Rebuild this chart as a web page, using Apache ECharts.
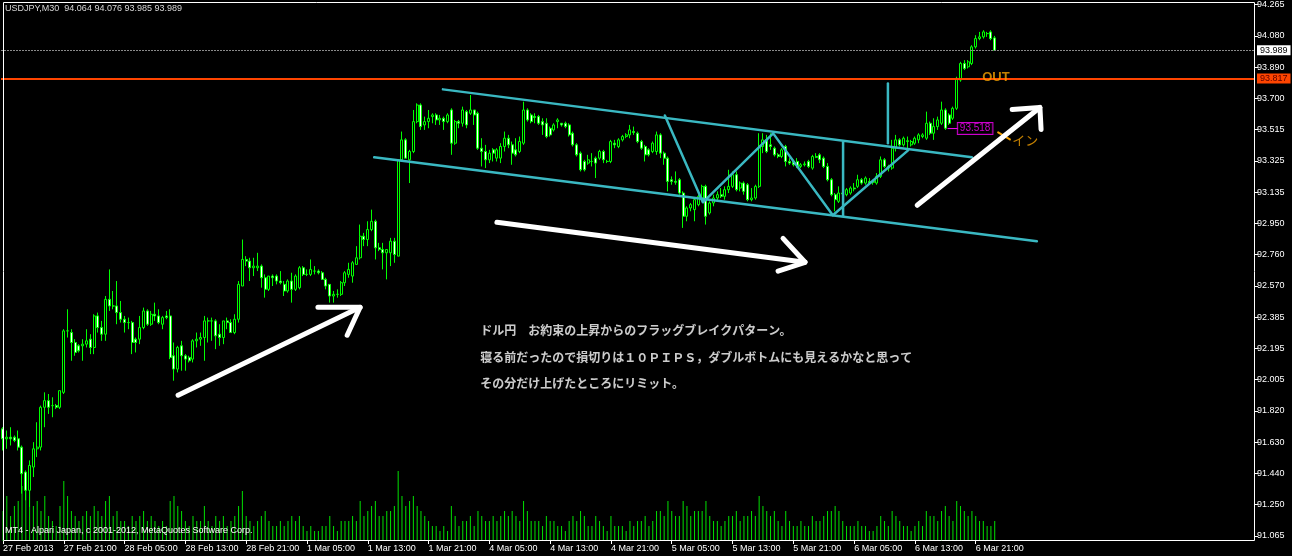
<!DOCTYPE html>
<html><head><meta charset="utf-8">
<script src="https://cdn.jsdelivr.net/npm/echarts@6/dist/echarts.min.js"></script>
<style>html,body{margin:0;padding:0;background:#000;}#c{width:1292px;height:556px;}</style>
</head><body><div id="c"></div>
<script>
// ---- data (USDJPY M30, bar 0 = 27 Feb 2013 13:00) ----
const openP = [
91.71,91.65,91.66,91.66,91.65,91.60,91.45,91.34,91.48,91.59,91.60,91.84,91.88,91.85,91.85,91.84,
91.93,92.30,92.29,92.23,92.21,92.21,92.22,92.25,92.20,92.39,92.32,92.28,92.49,92.45,92.45,92.41,
92.37,92.35,92.35,92.25,92.25,92.32,92.42,92.34,92.40,92.39,92.34,92.39,92.39,92.15,92.07,92.21,
92.15,92.14,92.13,92.24,92.25,92.26,92.36,92.36,92.36,92.28,92.26,92.36,92.35,92.29,92.37,92.57,
92.73,92.72,92.68,92.68,92.69,92.62,92.55,92.63,92.63,92.60,92.58,92.54,92.60,92.55,92.56,92.68,
92.64,92.64,92.66,92.66,92.65,92.61,92.58,92.51,92.52,92.52,92.59,92.64,92.63,92.70,92.74,92.87,
92.85,92.91,92.96,92.80,92.79,92.77,92.77,92.84,92.75,93.33,93.45,93.33,93.38,93.56,93.66,93.54,
93.56,93.59,93.60,93.57,93.58,93.56,93.63,93.43,93.56,93.55,93.62,93.61,93.63,93.61,93.40,93.38,
93.33,93.39,93.34,93.34,93.41,93.46,93.42,93.39,93.38,93.43,93.63,93.60,93.59,93.59,93.56,93.55,
93.52,93.51,93.56,93.55,93.55,93.54,93.49,93.42,93.37,93.32,93.31,93.32,93.34,93.34,93.38,93.32,
93.32,93.43,93.41,93.45,93.47,93.48,93.50,93.49,93.44,93.41,93.39,93.38,93.38,93.48,93.37,93.34,
93.21,93.20,93.21,93.13,92.99,93.04,93.03,93.06,93.10,93.17,93.01,93.07,93.10,93.12,93.11,93.15,
93.17,93.24,93.16,93.19,93.18,93.09,93.10,93.17,93.41,93.45,93.42,93.40,93.36,93.35,93.41,93.32,
93.32,93.32,93.29,93.30,93.32,93.28,93.35,93.36,93.34,93.29,93.21,93.12,93.08,93.13,93.12,93.13,
93.16,93.17,93.21,93.19,93.20,93.20,93.19,93.23,93.33,93.29,93.28,93.40,93.45,93.42,93.44,93.42,
93.43,93.45,93.47,93.46,93.55,93.49,93.53,93.55,93.63,93.60,93.58,93.64,93.81,93.91,93.89,93.91,
94.01,94.06,94.07,94.09,94.10,94.064];
const highP = [
91.72,91.70,91.72,91.67,91.70,91.61,91.46,91.52,91.63,91.75,91.85,91.93,91.92,91.90,91.86,91.94,
92.31,92.43,92.31,92.25,92.22,92.25,92.31,92.28,92.40,92.41,92.36,92.51,92.67,92.54,92.60,92.48,
92.39,92.38,92.36,92.26,92.39,92.44,92.43,92.42,92.47,92.43,92.39,92.42,92.43,92.23,92.21,92.24,
92.16,92.15,92.25,92.29,92.29,92.39,92.38,92.38,92.37,92.34,92.36,92.38,92.37,92.40,92.60,92.85,
92.75,92.74,92.74,92.77,92.70,92.64,92.63,92.64,92.64,92.66,92.60,92.61,92.65,92.64,92.69,92.69,
92.67,92.73,92.69,92.67,92.66,92.62,92.58,92.54,92.55,92.60,92.66,92.71,92.72,92.81,92.94,92.89,
92.96,93.03,92.97,92.83,92.83,92.79,92.86,92.86,93.33,93.50,93.46,93.39,93.63,93.67,93.67,93.59,
93.63,93.61,93.61,93.60,93.59,93.61,93.64,93.57,93.57,93.65,93.63,93.72,93.63,93.62,93.46,93.42,
93.39,93.40,93.40,93.43,93.50,93.48,93.44,93.46,93.47,93.68,93.64,93.61,93.61,93.60,93.58,93.58,
93.53,93.55,93.58,93.55,93.56,93.55,93.50,93.43,93.38,93.33,93.36,93.37,93.35,93.39,93.39,93.33,
93.45,93.45,93.46,93.48,93.49,93.54,93.53,93.50,93.45,93.42,93.40,93.44,93.50,93.49,93.38,93.35,
93.23,93.26,93.22,93.14,93.05,93.07,93.10,93.12,93.18,93.18,93.08,93.12,93.14,93.16,93.17,93.27,
93.26,93.26,93.20,93.20,93.19,93.16,93.18,93.49,93.49,93.48,93.49,93.41,93.37,93.40,93.42,93.34,
93.33,93.34,93.31,93.32,93.33,93.36,93.37,93.37,93.35,93.31,93.22,93.13,93.17,93.15,93.16,93.17,
93.19,93.24,93.22,93.23,93.22,93.21,93.25,93.35,93.34,93.30,93.45,93.48,93.46,93.47,93.47,93.45,
93.47,93.49,93.49,93.62,93.56,93.58,93.59,93.68,93.64,93.61,93.65,93.83,93.92,93.93,93.93,94.02,
94.08,94.10,94.11,94.10,94.11,94.076];
const lowP = [
91.58,91.59,91.61,91.63,91.58,91.32,91.28,91.24,91.42,91.54,91.58,91.72,91.80,91.78,91.83,91.83,
91.92,92.26,92.12,92.15,92.17,92.12,92.20,92.16,92.16,92.29,92.24,92.24,92.42,92.43,92.34,92.35,
92.29,92.31,92.16,92.17,92.22,92.31,92.33,92.33,92.36,92.34,92.31,92.37,92.13,92.00,92.05,92.06,
92.06,92.11,92.11,92.20,92.21,92.12,92.23,92.24,92.19,92.21,92.22,92.31,92.29,92.28,92.35,92.57,
92.69,92.60,92.63,92.66,92.56,92.50,92.54,92.57,92.58,92.58,92.51,92.53,92.47,92.54,92.55,92.63,
92.63,92.63,92.64,92.64,92.61,92.55,92.47,92.47,92.50,92.51,92.57,92.62,92.59,92.70,92.73,92.81,
92.81,92.90,92.73,92.78,92.67,92.61,92.69,92.71,92.75,93.32,93.34,93.19,93.37,93.55,93.51,93.51,
93.52,93.55,93.54,93.54,93.51,93.55,93.36,93.42,93.52,93.53,93.52,93.60,93.54,93.39,93.29,93.28,
93.31,93.32,93.32,93.31,93.38,93.40,93.30,93.35,93.37,93.42,93.56,93.55,93.55,93.54,93.48,93.46,
93.47,93.50,93.52,93.53,93.52,93.47,93.41,93.35,93.26,93.26,93.30,93.29,93.22,93.33,93.31,93.31,
93.31,93.40,93.40,93.44,93.46,93.46,93.48,93.43,93.39,93.32,93.35,93.37,93.36,93.34,93.30,93.14,
93.18,93.18,93.12,92.92,92.96,93.02,92.96,93.05,93.09,92.94,93.00,93.05,93.08,93.10,93.09,93.13,
93.16,93.14,93.14,93.12,93.08,93.08,93.09,93.16,93.37,93.37,93.39,93.35,93.34,93.34,93.29,93.30,
93.29,93.28,93.28,93.29,93.28,93.27,93.34,93.31,93.28,93.20,93.11,93.02,93.07,93.11,93.11,93.12,
93.14,93.16,93.18,93.18,93.19,93.18,93.18,93.22,93.28,93.26,93.27,93.38,93.41,93.41,93.40,93.41,
93.42,93.43,93.46,93.45,93.48,93.45,93.51,93.54,93.51,93.54,93.57,93.63,93.80,93.87,93.88,93.90,
94.00,94.05,94.06,94.07,94.05,93.985];
const closeP = [
91.65,91.66,91.65,91.64,91.60,91.44,91.34,91.49,91.59,91.60,91.84,91.88,91.84,91.85,91.84,91.94,
92.30,92.30,92.23,92.17,92.18,92.22,92.24,92.20,92.39,92.32,92.28,92.49,92.45,92.45,92.41,92.37,
92.35,92.35,92.23,92.23,92.32,92.42,92.34,92.40,92.39,92.35,92.38,92.38,92.14,92.07,92.20,92.15,
92.13,92.12,92.24,92.25,92.26,92.36,92.36,92.36,92.27,92.26,92.36,92.35,92.29,92.37,92.58,92.73,
92.72,92.68,92.69,92.69,92.62,92.55,92.63,92.62,92.60,92.59,92.54,92.60,92.55,92.63,92.68,92.64,
92.64,92.67,92.66,92.65,92.61,92.57,92.51,92.52,92.52,92.59,92.65,92.67,92.71,92.74,92.87,92.85,
92.91,92.96,92.80,92.79,92.77,92.79,92.84,92.76,93.33,93.45,93.34,93.38,93.56,93.66,93.53,93.56,
93.58,93.60,93.57,93.58,93.56,93.60,93.43,93.56,93.55,93.63,93.54,93.63,93.60,93.40,93.38,93.33,
93.37,93.37,93.39,93.41,93.46,93.42,93.37,93.36,93.44,93.63,93.57,93.56,93.585,93.55,93.54,93.47,
93.48,93.54,93.57,93.54,93.53,93.48,93.42,93.36,93.27,93.27,93.33,93.32,93.31,93.38,93.33,93.32,
93.44,93.42,93.45,93.47,93.48,93.51,93.495,93.44,93.40,93.36,93.36,93.43,93.48,93.37,93.34,93.20,
93.20,93.195,93.13,92.99,93.04,93.06,93.09,93.11,93.17,92.99,93.07,93.10,93.12,93.11,93.15,93.17,
93.24,93.15,93.19,93.14,93.09,93.10,93.17,93.41,93.45,93.38,93.41,93.36,93.35,93.39,93.32,93.31,
93.30,93.29,93.30,93.305,93.29,93.35,93.345,93.33,93.29,93.21,93.12,93.09,93.13,93.125,93.15,93.16,
93.155,93.21,93.19,93.22,93.19,93.195,93.23,93.33,93.29,93.28,93.40,93.45,93.42,93.46,93.445,93.44,
93.46,93.48,93.48,93.55,93.49,93.53,93.57,93.63,93.52,93.55,93.64,93.82,93.91,93.88,93.92,94.01,
94.06,94.07,94.10,94.09,94.06,93.989];
const volume = [
300,450,250,350,400,550,600,500,350,400,300,450,250,200,150,350,
600,450,300,250,200,250,300,250,350,300,250,400,450,250,300,200,
200,150,250,200,250,300,200,250,200,150,200,150,400,450,350,300,
200,150,250,200,200,350,200,150,250,200,250,150,200,250,350,500,
250,200,150,200,250,300,200,150,150,200,150,200,250,200,250,150,
100,150,100,100,150,150,250,150,100,200,200,200,250,200,400,250,
300,350,400,250,250,300,300,350,700,450,350,400,450,350,300,250,
200,150,150,100,150,100,350,250,150,200,200,250,150,300,250,200,
200,250,200,250,300,250,300,250,200,400,300,200,200,200,150,250,
200,200,150,150,100,200,250,200,300,250,150,150,250,200,150,100,
250,150,150,150,100,200,150,200,200,250,150,200,300,300,250,400,
300,250,250,400,350,250,300,300,300,400,250,200,200,150,200,250,
250,300,200,250,250,300,250,450,350,300,250,300,200,150,300,200,
150,150,200,150,150,250,200,200,250,300,300,350,300,200,150,150,
150,200,150,150,100,100,150,250,200,150,300,250,200,150,150,100,
150,200,150,300,250,250,200,300,350,250,200,400,350,300,250,300,
250,200,200,150,150,200];
const tickLabels = ['27 Feb 2013','27 Feb 21:00','28 Feb 05:00','28 Feb 13:00','28 Feb 21:00',
  '1 Mar 05:00','1 Mar 13:00','1 Mar 21:00','4 Mar 05:00','4 Mar 13:00','4 Mar 21:00',
  '5 Mar 05:00','5 Mar 13:00','5 Mar 21:00','6 Mar 05:00','6 Mar 13:00','6 Mar 21:00'];
const priceLabels = ['91.065','91.250','91.440','91.630','91.820','92.005','92.195','92.385','92.570',
  '92.760','92.950','93.135','93.325','93.515','93.700','93.890','94.080','94.265'];
const priceMin = 91.065, priceMax = 94.265;
const bidPrice = 93.989, outPrice = 93.817, entryPrice = 93.518;
const barsPerLabel = 16;
const slotCount = 330;
// drawn objects, anchored at [bar index, price]
const channelUpper = [[115.8, 93.754], [255.0, 93.345]];
const channelLower = [[97.7, 93.345], [272.1, 92.839]];
const zigzag = [[174.2, 93.597], [184.2, 93.074], [202.7, 93.489], [218.4, 92.996], [238.2, 93.387]];
const vLine1 = [[221.1, 93.435], [221.1, 92.996]];
const vLine2 = [[232.9, 93.790], [232.9, 93.429]];
const arrowShafts = [
  [[46.1, 91.913], [94.0, 92.442]],
  [[130.0, 92.954], [211.1, 92.713]],
  [[240.6, 93.056], [272.9, 93.645]]];
const arrowHeads = [
  [[82.9, 92.442], [94.0, 92.442], [90.6, 92.274]],
  [[205.3, 92.857], [211.1, 92.713], [204.0, 92.659]],
  [[265.6, 93.633], [272.9, 93.645], [273.2, 93.513]]];
const entryTick = [[248.7, 93.518], [251.3, 93.518]];
const inSlash = [[261.9, 93.495], [265.0, 93.453]];
const noteLines = ['ドル円　お約束の上昇からのフラッグブレイクパターン。',
  '寝る前だったので損切りは１０ＰＩＰＳ，ダブルボトムにも見えるかなと思って',
  'その分だけ上げたところにリミット。'];
const notePos = [[125.6, 92.304], [125.6, 92.142], [125.6, 91.985]];
const titleText = 'USDJPY,M30  94.064 94.076 93.985 93.989';
const copyText = 'MT4 - Alpari Japan, c 2001-2012, MetaQuotes Software Corp.';

// ---- chart ----
const FONT = 'Liberation Sans, Arial, sans-serif';
const cats = Array.from({length: slotCount}, (_, i) => String(i));
const ohlc = openP.map((o, i) => [o, closeP[i], lowP[i], highP[i]]);
const labelIdx = (i) => i % barsPerLabel === 0 && i / barsPerLabel < tickLabels.length;
const cyan = '#3ab8c2';

function lineSeries(data, color, width, z) {
  return {type: 'line', xAxisIndex: 1, yAxisIndex: 0, data: data, symbol: 'none', silent: true,
    z: z, clip: false, lineStyle: {color: color, width: width, cap: 'round', join: 'round'}, animation: false};
}
function textSeries(pos, text, style) {
  return {type: 'scatter', xAxisIndex: 1, yAxisIndex: 0, data: [pos], symbolSize: 0, silent: true, z: 10,
    label: Object.assign({show: true, position: 'right', distance: 0, formatter: text}, style), animation: false};
}

const series = [
  {type: 'bar', xAxisIndex: 2, yAxisIndex: 2, data: volume, barWidth: 1, silent: true, z: 1,
   itemStyle: {color: '#00e000'}, animation: false},
  {type: 'candlestick', xAxisIndex: 0, yAxisIndex: 0, data: ohlc, barWidth: 2.6, z: 2, silent: true,
   itemStyle: {color: '#000000', color0: '#ffffff', borderColor: '#00ff00', borderColor0: '#00ff00', borderWidth: 1},
   markLine: {symbol: 'none', silent: true, animation: false, data: [
     {yAxis: bidPrice, lineStyle: {color: '#8a8a8a', type: [2, 1], width: 1},
      label: {show: true, position: 'end', distance: 2, formatter: bidPrice.toFixed(3), color: '#000',
        backgroundColor: '#ffffff', padding: [1, 3, 0, 3], fontSize: 9, fontFamily: FONT}},
     {yAxis: outPrice, lineStyle: {color: '#ff4500', type: 'solid', width: 2},
      label: {show: true, position: 'end', distance: 2, formatter: outPrice.toFixed(3), color: '#5a0000',
        backgroundColor: '#ff4500', padding: [1, 3, 0, 3], fontSize: 9, fontFamily: FONT}}
   ]},
   animation: false},
  lineSeries(channelUpper, cyan, 2.5, 3),
  lineSeries(channelLower, cyan, 2.5, 3),
  lineSeries(zigzag, cyan, 2.5, 3),
  lineSeries(vLine1, cyan, 2.5, 3),
  lineSeries(vLine2, cyan, 2.5, 3),
  lineSeries(entryTick, '#ff00ff', 1, 4),
  lineSeries(inSlash, '#f5a000', 2, 4)
];
arrowShafts.forEach(a => series.push(lineSeries(a, '#ffffff', 5, 5)));
arrowHeads.forEach(a => series.push(lineSeries(a, '#ffffff', 5, 5)));
noteLines.forEach((t, i) => series.push(textSeries(notePos[i], t,
  {color: '#ffffff', fontSize: 12, fontWeight: 'bold', fontFamily: 'Noto Sans CJK JP'})));
series.push(textSeries([251.3, entryPrice], entryPrice.toFixed(3),
  {color: '#ff00ff', fontSize: 10, fontFamily: FONT, borderColor: '#ff00ff', borderWidth: 1,
   backgroundColor: '#000', padding: [1, 2, 0, 2]}));
series.push(textSeries([257.7, 93.826], 'OUT',
  {color: '#f5a000', fontSize: 13, fontWeight: 'bold', fontFamily: FONT}));
series.push(textSeries([265.6, 93.447], 'イン',
  {color: '#f5a000', fontSize: 13, fontFamily: 'Noto Sans CJK JP'}));

const option = {
  backgroundColor: '#000000',
  animation: false,
  title: [
    {text: titleText, left: 5, top: 4, padding: 0,
     textStyle: {color: '#d8d8d8', fontSize: 9, fontWeight: 'normal', fontFamily: FONT}},
    {text: copyText, left: 5, top: 526, padding: 0,
     textStyle: {color: '#ffffff', fontSize: 9, fontWeight: 'normal', fontFamily: FONT}}
  ],
  grid: [
    {left: 1, right: 37, top: 4, bottom: 20},
    {left: 1, right: 37, top: 2, bottom: 15}
  ],
  xAxis: [
    {gridIndex: 0, type: 'category', data: cats, show: false, boundaryGap: true},
    {gridIndex: 0, type: 'value', min: -0.5, max: slotCount - 0.5, show: false},
    {gridIndex: 1, type: 'category', data: cats, boundaryGap: true,
     axisLine: {show: false},
     axisTick: {show: true, alignWithLabel: true, interval: labelIdx, length: 3, lineStyle: {color: '#ffffff'}},
     axisLabel: {interval: labelIdx, formatter: (v, i) => tickLabels[Math.round(i / barsPerLabel)],
       align: 'left', margin: 3, color: '#ffffff', fontSize: 9, fontFamily: FONT},
     splitLine: {show: false}}
  ],
  yAxis: [
    {gridIndex: 0, type: 'value', min: priceMin, max: priceMax, show: false, scale: true},
    {gridIndex: 0, type: 'value', min: 0, max: priceLabels.length - 1, interval: 1, position: 'right',
     axisLine: {show: false}, splitLine: {show: false},
     axisTick: {show: true, length: 3, lineStyle: {color: '#ffffff'}},
     axisLabel: {margin: 2, color: '#ffffff', fontSize: 9, fontFamily: FONT, showMinLabel: true, showMaxLabel: true,
       formatter: v => priceLabels[Math.round(v)]}},
    {gridIndex: 1, type: 'value', min: 0, max: 5390, show: false}
  ],
  graphic: [
    {type: 'rect', z: 100, silent: true, shape: {x: 3.5, y: 2.5, width: 1251, height: 538},
     style: {fill: null, stroke: '#ffffff', lineWidth: 1}}
  ],
  series: series
};
const chart = echarts.init(document.getElementById('c'), null, {renderer: 'canvas'});
chart.setOption(option);
</script>
</body></html>
